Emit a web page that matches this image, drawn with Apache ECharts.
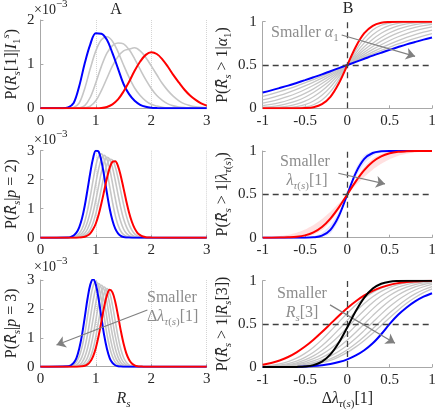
<!DOCTYPE html>
<html><head><meta charset="utf-8">
<script src="https://cdn.jsdelivr.net/npm/echarts@6/dist/echarts.min.js"></script>
<style>html,body{margin:0;padding:0;background:#fff}#c{width:440px;height:411px}</style>
</head><body><div id="c"></div><script>
// ---------- Panel A (top) ----------
const xA1 = [0,0.1,0.2,0.3,0.4,0.5,0.6,0.7,0.8,0.9,1.0,1.1,1.2,1.3,1.4,1.5,1.6,1.7,1.8,1.9,2.0,2.1,2.2,2.3,2.4,2.5,2.6,2.7,2.8,2.9,3.0];
const a1Blue = [0,0,0,0,0,0.02,0.12,0.5,1.02,1.45,1.70,1.69,1.55,1.25,0.9,0.55,0.32,0.17,0.08,0.035,0.014,0.005,0,0,0,0,0,0,0,0,0];
const a1Red = [0,0,0,0,0,0,0,0,0,0,0,0.005,0.03,0.09,0.2,0.38,0.6,0.85,1.06,1.21,1.27,1.23,1.11,0.94,0.75,0.58,0.42,0.29,0.19,0.11,0.06];
const a1G1 = [0,0,0,0,0,0,0.02,0.12,0.45,0.9,1.3,1.55,1.62,1.52,1.28,0.98,0.7,0.46,0.29,0.17,0.09,0.05,0.025,0.01,0.005,0,0,0,0,0,0];
const a1G2 = [0,0,0,0,0,0,0,0.01,0.06,0.25,0.58,0.95,1.25,1.42,1.48,1.46,1.33,1.12,0.88,0.65,0.45,0.29,0.18,0.1,0.055,0.03,0.015,0.007,0,0,0];
const a1G3 = [0,0,0,0,0,0,0,0,0.01,0.05,0.17,0.4,0.68,0.96,1.17,1.3,1.34,1.37,1.30,1.15,0.96,0.76,0.56,0.4,0.27,0.17,0.1,0.06,0.035,0.02,0.01];
// ---------- Panel A (middle, p=2) ----------
const xM = [0,0.5,0.55,0.6,0.65,0.7,0.75,0.8,0.85,0.9,0.95,1.0,1.05,1.1,1.15,1.2,1.25,1.3,1.35,1.4,1.45,1.5,1.55,1.6,1.65,1.7,1.75,1.8,1.85,1.9,1.95,2.0,3.0];
const a2Blue = [0,0.01,0.03,0.077,0.175,0.36,0.66,1.1,1.66,2.24,2.74,3.0,2.97,2.65,2.13,1.54,1.0,0.59,0.31,0.15,0.064,0.025,0.009,0.003,0,0,0,0,0,0,0,0,0];
const a2Red = [0,0,0,0.001,0.002,0.006,0.015,0.035,0.076,0.15,0.29,0.49,0.79,1.18,1.61,2.05,2.41,2.62,2.64,2.47,2.13,1.70,1.26,0.86,0.55,0.32,0.17,0.088,0.04,0.017,0.007,0.003,0];
const a2G1 = [0,0.003,0.01,0.027,0.066,0.15,0.30,0.56,0.94,1.43,1.98,2.48,2.81,2.89,2.70,2.29,1.76,1.23,0.77,0.44,0.23,0.11,0.047,0.018,0.006,0.002,0,0,0,0,0,0,0];
const a2G2 = [0,0.001,0.004,0.011,0.029,0.069,0.15,0.30,0.55,0.90,1.36,1.88,2.37,2.71,2.84,2.71,2.37,1.88,1.36,0.90,0.55,0.30,0.15,0.069,0.029,0.011,0.004,0.001,0,0,0,0,0];
const a2G3 = [0,0,0.002,0.004,0.012,0.031,0.071,0.15,0.30,0.53,0.86,1.30,1.78,2.26,2.61,2.77,2.70,2.42,1.98,1.49,1.03,0.65,0.38,0.20,0.097,0.044,0.018,0.007,0.002,0.001,0,0,0];
const a2G4 = [0,0,0.001,0.002,0.005,0.014,0.033,0.074,0.15,0.29,0.51,0.83,1.23,1.70,2.15,2.51,2.70,2.68,2.45,2.06,1.60,1.15,0.76,0.46,0.26,0.13,0.063,0.028,0.011,0.004,0.002,0,0];
// ---------- Panel A (bottom, p=3) ----------
const a3Blue = [0,0.017,0.05,0.13,0.30,0.62,1.09,1.71,2.35,2.84,3.03,2.84,2.35,1.71,1.09,0.62,0.30,0.13,0.05,0.017,0.005,0.001,0,0,0,0,0,0,0,0,0,0,0];
const a3Red = [0,0,0,0,0.001,0.004,0.012,0.032,0.08,0.18,0.36,0.65,1.06,1.56,2.07,2.47,2.66,2.57,2.25,1.77,1.25,0.80,0.46,0.24,0.11,0.047,0.018,0.006,0.002,0,0,0,0];
const a3G1 = [0,0.009,0.024,0.065,0.16,0.35,0.67,1.14,1.73,2.32,2.78,2.95,2.78,2.32,1.73,1.14,0.67,0.35,0.16,0.065,0.024,0.009,0,0,0,0,0,0,0,0,0,0,0];
const a3G2 = [0,0.003,0.009,0.023,0.063,0.16,0.34,0.65,1.11,1.68,2.27,2.71,2.88,2.71,2.27,1.68,1.11,0.65,0.34,0.16,0.063,0.023,0.009,0.003,0,0,0,0,0,0,0,0,0];
const a3G3 = [0,0.001,0.003,0.009,0.023,0.062,0.15,0.33,0.64,1.09,1.65,2.22,2.66,2.82,2.66,2.22,1.65,1.09,0.64,0.33,0.15,0.062,0.023,0.009,0.003,0.001,0,0,0,0,0,0,0];
const a3G4 = [0,0,0.001,0.003,0.008,0.022,0.061,0.15,0.32,0.62,1.07,1.61,2.17,2.60,2.76,2.60,2.17,1.61,1.07,0.62,0.32,0.15,0.061,0.022,0.008,0.003,0.001,0,0,0,0,0,0];
const a3G5 = [0,0,0,0.001,0.003,0.008,0.022,0.059,0.15,0.32,0.61,1.04,1.58,2.13,2.54,2.70,2.54,2.13,1.58,1.04,0.61,0.32,0.15,0.059,0.022,0.008,0.003,0.001,0,0,0,0,0];
// ---------- Panel B ----------
const xB = [-1,-0.9,-0.8,-0.7,-0.6,-0.5,-0.4,-0.3,-0.2,-0.1,0,0.1,0.2,0.3,0.4,0.5,0.6,0.7,0.8,0.9,1];
const b1Red = [0,0,0,0,0,0.003,0.013,0.048,0.133,0.289,0.5,0.711,0.867,0.952,0.987,0.997,1,1,1,1,1];
const b1Blue = [0.182,0.207,0.234,0.262,0.293,0.325,0.358,0.392,0.428,0.464,0.5,0.536,0.572,0.608,0.642,0.675,0.707,0.738,0.766,0.793,0.818];
const b1G1 = [0,0,0,0.001,0.005,0.015,0.041,0.096,0.192,0.332,0.5,0.668,0.808,0.904,0.959,0.985,0.995,0.999,1,1,1];
const b1G2 = [0,0.001,0.003,0.008,0.019,0.042,0.084,0.151,0.245,0.365,0.5,0.635,0.755,0.849,0.916,0.958,0.981,0.992,0.997,0.999,1];
const b1G3 = [0.003,0.006,0.013,0.026,0.048,0.082,0.133,0.202,0.289,0.391,0.5,0.609,0.711,0.798,0.867,0.918,0.952,0.974,0.987,0.994,0.997];
const b1G4 = [0.012,0.020,0.035,0.056,0.086,0.128,0.182,0.248,0.325,0.410,0.5,0.590,0.675,0.752,0.818,0.872,0.914,0.944,0.965,0.980,0.988];
const b1G5 = [0.030,0.045,0.066,0.093,0.129,0.173,0.225,0.286,0.353,0.425,0.5,0.575,0.647,0.714,0.775,0.827,0.871,0.907,0.934,0.955,0.970];
const b1G6 = [0.059,0.080,0.106,0.137,0.174,0.217,0.266,0.320,0.377,0.438,0.5,0.562,0.623,0.680,0.734,0.783,0.826,0.863,0.894,0.920,0.941];
const b1G7 = [0.097,0.121,0.149,0.182,0.218,0.258,0.302,0.348,0.397,0.448,0.5,0.552,0.603,0.652,0.698,0.742,0.782,0.818,0.851,0.879,0.903];
const b1G8 = [0.139,0.164,0.192,0.223,0.257,0.294,0.332,0.372,0.414,0.457,0.5,0.543,0.586,0.628,0.668,0.706,0.743,0.777,0.808,0.836,0.861];
const b2Red = [0,0,0.001,0.004,0.010,0.027,0.062,0.124,0.221,0.350,0.5,0.650,0.779,0.876,0.938,0.973,0.990,0.996,0.999,1,1];
const b2Blue = [0,0,0,0,0,0,0.004,0.023,0.091,0.252,0.5,0.748,0.909,0.977,0.996,1,1,1,1,1,1];
const b2RedLo = [0,0,0,0.001,0.003,0.012,0.035,0.086,0.182,0.325,0.5,0.604,0.701,0.785,0.853,0.906,0.943,0.967,0.982,0.991,0.996];
const b2RedHi = [0.004,0.009,0.018,0.033,0.057,0.094,0.147,0.215,0.299,0.396,0.5,0.675,0.818,0.914,0.965,0.988,0.997,0.999,1,1,1];
const b2BlueLo = [0,0,0,0,0,0,0,0.006,0.048,0.202,0.5,0.701,0.854,0.943,0.982,0.996,0.999,1,1,1,1];
const b2BlueHi = [0,0,0,0,0.001,0.004,0.018,0.057,0.146,0.299,0.5,0.798,0.952,0.994,1,1,1,1,1,1,1];
const b3Red = [0.028,0.048,0.077,0.117,0.171,0.238,0.317,0.406,0.5,0.594,0.683,0.762,0.829,0.883,0.923,0.952,0.972,0.984,0.991,0.996,0.998];
const b3Black = [0,0,0,0,0.002,0.007,0.023,0.064,0.147,0.284,0.462,0.648,0.804,0.909,0.965,0.989,0.997,1,1,1,1];
const b3Blue = [0,0,0,0,0.002,0.006,0.012,0.022,0.036,0.058,0.09,0.135,0.195,0.275,0.38,0.5,0.605,0.69,0.76,0.815,0.855];
const b3G1 = [0.010,0.020,0.037,0.064,0.103,0.159,0.231,0.318,0.417,0.521,0.624,0.719,0.800,0.865,0.914,0.949,0.971,0.985,0.992,0.996,0.998];
const b3G2 = [0.006,0.012,0.023,0.041,0.070,0.113,0.172,0.247,0.337,0.437,0.542,0.644,0.736,0.815,0.877,0.922,0.954,0.974,0.986,0.993,0.997];
const b3G3 = [0.004,0.008,0.016,0.029,0.050,0.083,0.130,0.192,0.269,0.360,0.459,0.561,0.659,0.748,0.822,0.881,0.925,0.955,0.974,0.986,0.993];
const b3G4 = [0.003,0.005,0.011,0.020,0.036,0.061,0.097,0.147,0.212,0.291,0.382,0.480,0.579,0.674,0.758,0.829,0.885,0.926,0.955,0.974,0.986];
const b3G5 = [0.002,0.004,0.007,0.014,0.026,0.044,0.072,0.111,0.165,0.232,0.313,0.404,0.5,0.596,0.687,0.768,0.835,0.889,0.928,0.956,0.974];
const b3G6 = [0.001,0.003,0.005,0.010,0.018,0.032,0.053,0.084,0.127,0.183,0.252,0.334,0.425,0.519,0.613,0.700,0.777,0.841,0.892,0.930,0.957];
const b3G7 = [0.001,0.002,0.003,0.007,0.013,0.023,0.039,0.062,0.096,0.142,0.201,0.273,0.355,0.444,0.537,0.628,0.711,0.785,0.847,0.895,0.932];
const b3G8 = [0.001,0.001,0.003,0.005,0.010,0.018,0.031,0.051,0.079,0.119,0.170,0.234,0.309,0.392,0.482,0.572,0.659,0.738,0.806,0.862,0.906];

// ---------- styling ----------
const FF = '"Liberation Serif", "DejaVu Serif", serif';
const TXT = '#262626', AX = '#a8a8a8', GR = '#c6c6c6', ANN = '#8c8c8c';
const FS = 15;
function mkRich(col){
  return {
    i:{fontStyle:'italic', fontFamily:FF, fontSize:16, lineHeight:22, color:col, fill:col},
    n:{fontFamily:FF, fontSize:16, lineHeight:22, color:col, fill:col},
    s:{fontStyle:'italic', fontFamily:FF, fontSize:11, verticalAlign:'bottom', color:col, fill:col},
    u:{fontFamily:FF, fontSize:11, verticalAlign:'bottom', color:col, fill:col},
    sup:{fontStyle:'italic', fontFamily:FF, fontSize:11, verticalAlign:'top', color:col, fill:col},
    supn:{fontFamily:FF, fontSize:11, verticalAlign:'top', color:col, fill:col}
  };
}
const RICH = mkRich(TXT), RICHG = mkRich(ANN);
const nameStyle = {fontFamily:FF, fontSize:16, lineHeight:22, color:TXT, rich:RICH};

const grids = [
  {left:33.3, top:20, width:173.4, height:88.3},
  {left:33.3, top:150.7, width:173.4, height:87},
  {left:33.3, top:280, width:173.4, height:86.7},
  {left:262.7, top:21.7, width:169.3, height:86.6},
  {left:262.7, top:151, width:169.3, height:86.7},
  {left:262.7, top:280.7, width:169.3, height:86.6}
];
function pairs(xs, ys){ return ys.map((y,i)=>[xs[i], y]); }
function xAx(gi, isA, name){
  return {type:'value', gridIndex:gi, min:isA?0:-1, max:isA?3:1, interval:isA?1:0.5,
    axisLine:{show:true, onZero:false, lineStyle:{color:AX, width:1}},
    axisTick:{show:true, inside:true, length:3, lineStyle:{color:AX}},
    axisLabel:{color:TXT, fontFamily:FF, fontSize:FS, margin:5},
    splitLine:{show:isA, lineStyle:{type:'dotted', color:'#d4d4d4'}},
    name:name||'', nameLocation:'middle', nameGap:20, nameTextStyle:nameStyle};
}
function yAx(gi, max, interval, name, gap){
  return {type:'value', gridIndex:gi, min:0, max:max, interval:interval,
    axisLine:{show:true, onZero:false, lineStyle:{color:AX, width:1}},
    axisTick:{show:true, inside:true, length:3, lineStyle:{color:AX}},
    axisLabel:{color:TXT, fontFamily:FF, fontSize:FS, margin:6},
    splitLine:{show:false},
    name:name, nameLocation:'middle', nameRotate:90, nameGap:gap, nameTextStyle:nameStyle};
}
function line(gi, xs, ys, color, width, z, extra){
  return Object.assign({type:'line', xAxisIndex:gi, yAxisIndex:gi, data:pairs(xs, ys),
    symbol:'none', showSymbol:false, smooth:0.35, silent:true, animation:false,
    lineStyle:{color:color, width:width}, z:z}, extra||{});
}
function band(gi, lo, hi, color){
  return {type:'custom', xAxisIndex:gi, yAxisIndex:gi, silent:true, animation:false, z:1, clip:true,
    data:[[0,0.5]],
    renderItem:function(params, api){
      const pts = [];
      for (let i=0;i<xB.length;i++) pts.push(api.coord([xB[i], lo[i]]));
      for (let i=xB.length-1;i>=0;i--) pts.push(api.coord([xB[i], hi[i]]));
      return {type:'polygon', shape:{points:pts, smooth:0.2}, style:{fill:color}};
    }};
}
const dashML = {symbol:'none', silent:true, animation:false, label:{show:false},
  lineStyle:{type:[6,4], color:'#404040', width:1.3}, data:[{xAxis:0},{yAxis:0.5}]};
function arrowML(x1,y1,x2,y2){
  return {symbol:['none','arrow'], symbolSize:9, silent:true, animation:false, label:{show:false},
    lineStyle:{type:'solid', color:'#808080', width:1.2},
    itemStyle:{color:'#808080'},
    data:[[{coord:[x1,y1]},{coord:[x2,y2]}]]};
}

const series = [];
// A top
[a1G1,a1G2,a1G3].forEach(g=>series.push(line(0, xA1, g, GR, 1.6, 2)));
series.push(line(0, xA1, a1Blue, '#0000ff', 2, 4));
series.push(line(0, xA1, a1Red, '#ff0000', 2, 4));
// A mid
[a2G1,a2G2,a2G3,a2G4].forEach(g=>series.push(line(1, xM, g, GR, 1.6, 2)));
series.push(line(1, xM, a2Blue, '#0000ff', 2, 4));
series.push(line(1, xM, a2Red, '#ff0000', 2, 4));
// A bottom
[a3G1,a3G2,a3G3,a3G4].forEach(g=>series.push(line(2, xM, g, GR, 1.6, 2)));
series.push(line(2, xM, a3G5, GR, 1.6, 2));
series.push(line(2, xM, a3Blue, '#0000ff', 2, 4));
series.push(line(2, xM, a3Red, '#ff0000', 2, 4, {markLine:arrowML(1.93,1.96,0.29,0.75)}));
// B top
[b1G1,b1G2,b1G3,b1G4,b1G5,b1G6,b1G7].forEach(g=>series.push(line(3, xB, g, GR, 1.3, 2)));
series.push(line(3, xB, b1G8, GR, 1.3, 2, {markLine:dashML}));
series.push(line(3, xB, b1Blue, '#0000ff', 2, 4));
series.push(line(3, xB, b1Red, '#ff0000', 2, 4, {markLine:arrowML(-0.067,0.846,0.80,0.60)}));
// B mid
series.push(band(4, b2RedLo, b2RedHi, 'rgba(255,0,0,0.12)'));
series.push(band(4, b2BlueLo, b2BlueHi, 'rgba(0,0,255,0.10)'));
series.push(line(4, xB, b2Blue, '#0000ff', 2, 4, {markLine:dashML}));
series.push(line(4, xB, b2Red, '#ff0000', 2, 4, {markLine:arrowML(-0.107,0.743,0.445,0.62)}));
// B bottom
[b3G1,b3G2,b3G3,b3G4,b3G5,b3G6,b3G7].forEach(g=>series.push(line(5, xB, g, GR, 1.3, 2)));
series.push(line(5, xB, b3G8, GR, 1.3, 2, {markLine:dashML}));
series.push(line(5, xB, b3Blue, '#0000ff', 2, 4));
series.push(line(5, xB, b3Red, '#ff0000', 2, 4));
series.push(line(5, xB, b3Black, '#000000', 2, 5, {markLine:arrowML(-0.205,0.72,0.563,0.277)}));

function txt(x, y, text, align, rich, col, size){
  return {type:'text', x:x, y:y, silent:true, z:10,
    style:{text:text, rich:rich, fill:col, fontFamily:FF, fontSize:size||16, lineHeight:22,
      align:align||'left', verticalAlign:'middle'}};
}
const graphics = [
  txt(116, 10, 'A', 'center', RICH, TXT, 16),
  txt(348, 9, 'B', 'center', RICH, TXT, 16),
  txt(34, 10, '×10{supn|−3}', 'left', RICH, TXT, 14),
  txt(34, 140, '×10{supn|−3}', 'left', RICH, TXT, 14),
  txt(34, 267, '×10{supn|−3}', 'left', RICH, TXT, 14),
  txt(271, 33, 'Smaller {i|α}{u|1}', 'left', RICHG, ANN, 16),
  txt(305, 162, 'Smaller', 'center', RICHG, ANN, 16),
  txt(307, 181, '{i|λ}{s|τ}{u|(}{s|s}{u|)}[1]', 'center', RICHG, ANN, 16),
  txt(147, 298, 'Smaller', 'left', RICHG, ANN, 16),
  txt(147, 317, 'Δ{i|λ}{s|τ}{u|(}{s|s}{u|)}[1]', 'left', RICHG, ANN, 16),
  txt(302, 294, 'Smaller', 'center', RICHG, ANN, 16),
  txt(302, 313, '{i|R}{s|s}[3]', 'center', RICHG, ANN, 16)
];

const option = {
  animation:false,
  backgroundColor:'#ffffff',
  grid: grids,
  xAxis: [xAx(0,true), xAx(1,true), xAx(2,true,'{i|R}{s|s}'),
          xAx(3,false), xAx(4,false), xAx(5,false,'Δ{i|λ}{s|τ}{u|(}{s|s}{u|)}[1]')],
  yAxis: [
    yAx(0, 2, 1, 'P({i|R}{s|s}[1]|{i|I}{u|1}{sup|s})', 13),
    yAx(1, 3, 1, 'P({i|R̄}{s|s}|{i|p} = 2)', 13),
    yAx(2, 3, 1, 'P({i|R̄}{s|s}|{i|p} = 3)', 13),
    yAx(3, 1, 0.5, 'P({i|R̄}{s|s} > 1|{i|α}{u|1})', 26),
    yAx(4, 1, 0.5, 'P({i|R̄}{s|s} > 1|{i|λ}{s|τ}{u|(}{s|s}{u|)})', 26),
    yAx(5, 1, 0.5, 'P({i|R̄}{s|s} > 1|{i|R}{s|s}[3])', 26)
  ],
  series: series,
  graphic: graphics
};
const chart = echarts.init(document.getElementById('c'), null, {renderer:'canvas'});
chart.setOption(option);
</script></body></html>
